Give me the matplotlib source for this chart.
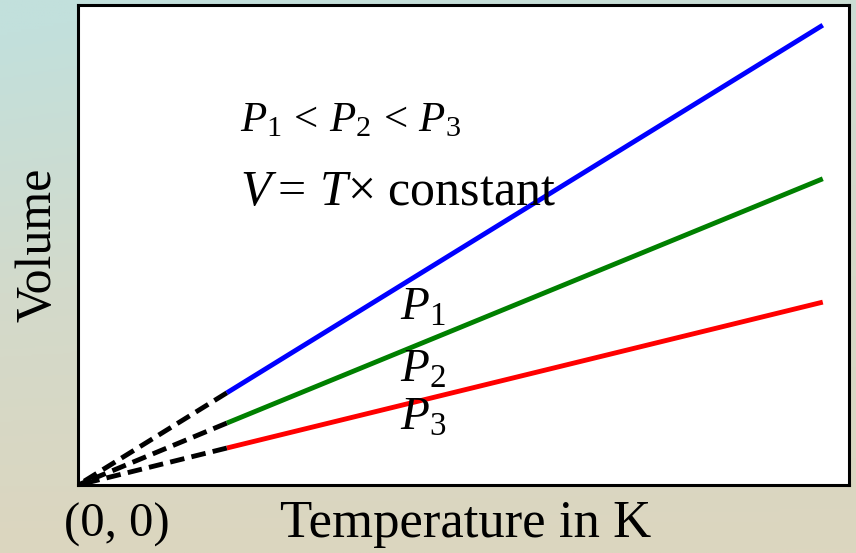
import numpy as np
import matplotlib.pyplot as plt
from matplotlib.colors import LinearSegmentedColormap

plt.rcParams['font.family'] = ['Liberation Serif', 'DejaVu Serif']
plt.rcParams['mathtext.fontset'] = 'custom'
plt.rcParams['mathtext.rm'] = 'Liberation Serif'
plt.rcParams['mathtext.it'] = 'Liberation Serif:italic'

# temperature points: end of dashed part -> origin, and solid part
T_dash = [1.93, 0.0]
T_solid = [1.93, 9.66]

# volume at the start and end of each solid line
V_p1 = [1.92, 9.58]
V_p2 = [1.29, 6.38]
V_p3 = [0.77, 3.81]
colors = ['#0000ff', '#008000', '#ff0000']
labels = ['$P_1$', '$P_2$', '$P_3$']
label_pos = [(4.18, 3.44), (4.18, 2.15), (4.18, 1.15)]

fig = plt.figure(figsize=(8.56, 5.53), dpi=100)

# soft background gradient
bg = fig.add_axes([0, 0, 1, 1], zorder=-10)
yy, xx = np.mgrid[0:1:200j, 0:1:300j]
grad = np.clip(0.85 * yy + 0.25 * xx * (1 - yy) - 0.05, 0, 1)
cmap = LinearSegmentedColormap.from_list('bg', ['#c2e0dc', '#d3dacb', '#dcd6bf'])
bg.imshow(grad, cmap=cmap, aspect='auto', extent=[0, 1, 0, 1], origin='upper')
bg.axis('off')

ax = fig.add_axes([78 / 856, 1 - 485 / 553, 771 / 856, 480 / 553])
ax.set_facecolor('white')
for V, c in zip([V_p1, V_p2, V_p3], colors):
    ax.plot(T_solid, V, color=c, lw=3.5, solid_capstyle='butt')
    ax.plot(T_dash, [V[0], 0.0], color='black', lw=3.5, dashes=(3, 1.5))

for lab, (x, y) in zip(labels, label_pos):
    ax.text(x, y, lab, fontsize=34, va='baseline', ha='left')

ax.text(2.1, 7.375, r'$P_1\,<\,P_2\,<\,P_3$', fontsize=31, va='baseline', ha='left')
ax.text(2.1, 5.83, r'$V{=}\,T{\times}$ constant', fontsize=36,
        va='baseline', ha='left')

ax.set_xlim(0, 10)
ax.set_ylim(0, 10)
ax.set_xticks([])
ax.set_yticks([])
for s in ax.spines.values():
    s.set_linewidth(2.2)
    s.set_color('black')

fig.text(38 / 856, 1 - 245 / 553, 'Volume', rotation=90, fontsize=36,
         ha='center', va='center')
fig.text(466 / 856, 1 - 537 / 553, 'Temperature in K', fontsize=38,
         ha='center', va='baseline')
fig.text(117 / 856, 1 - 537 / 553, '(0, 0)', fontsize=35,
         ha='center', va='baseline')

fig.savefig('out.png', dpi=100)
